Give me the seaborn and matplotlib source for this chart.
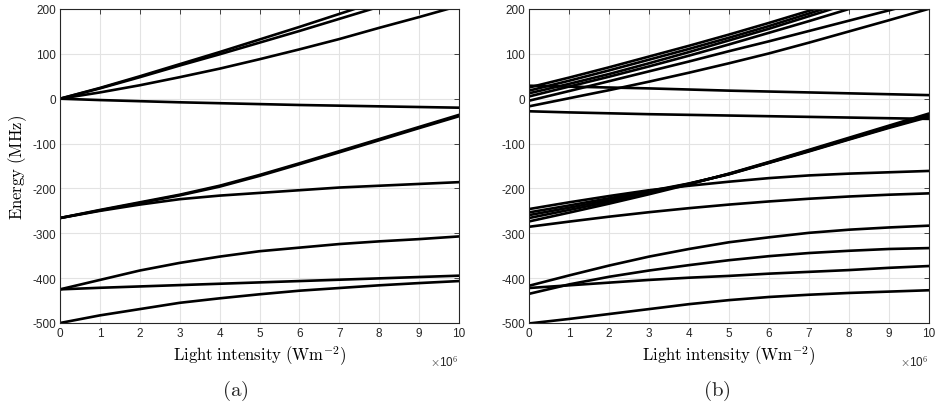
import numpy as np
import pandas as pd
import matplotlib
matplotlib.use("Agg")
import matplotlib.pyplot as plt
import seaborn as sns

# ---------------- data ----------------
# light intensity sample points (W m^-2)
intensity = [0, 1e6, 2e6, 3e6, 4e6, 5e6, 6e6, 7e6, 8e6, 9e6, 10e6]

# panel (a) energy levels (MHz)
a_curves = {
    "a1": [0, 24, 50, 77, 104, 132, 160, 189, 218, 247, 276],
    "a2": [0, 23, 48, 74, 99, 125, 151, 178, 205, 232, 259],
    "a3": [0, 14, 30, 48, 67, 88, 110, 133, 158, 182, 207],
    "a4": [0, -3, -5.5, -8, -10, -12, -14, -15.5, -17, -18.5, -20],
    "b1": [-266, -248, -231, -214, -194, -170, -144, -117, -90, -63, -36],
    "b1b": [-266, -249, -232.5, -215.5, -196, -172, -146, -119.5, -92.5, -65.5, -39],
    "b2": [-266, -250, -236, -224, -216, -210, -204, -198, -194, -190, -186],
    "c1": [-425, -404, -383, -366, -352, -340, -332, -324, -318, -313, -307],
    "c2": [-425, -421.5, -418.5, -415.5, -412.5, -409.5, -406.5, -403.5, -400.5, -397.5, -394.5],
    "c3": [-500, -483, -469, -455, -445, -436, -428, -422, -416, -411, -406.5],
}

# panel (b) energy levels (MHz)
b_curves = {
    "r1": [25, 47, 70, 94, 118, 143, 169, 196, 223, 250, 277],
    "r2": [18, 40, 63, 87, 111, 136, 162, 190, 218, 246, 274],
    "r3": [12, 33, 55, 79, 104, 130, 156, 184, 212, 240, 268],
    "r4": [5, 27, 49, 72, 96, 121, 147, 173, 200, 226, 252],
    "r5": [-4.5, 17, 39, 61, 83, 106, 128, 151, 174, 197, 220],
    "r6": [-17, 1, 19, 38, 58, 79, 101, 125, 150, 175, 200.5],
    "d1": [29, 27, 25, 23, 20.5, 18, 16, 14, 12, 10, 8],
    "d2": [-28, -30.5, -32.5, -34.5, -36, -37.5, -39, -40.5, -42, -43.5, -45],
    "m0": [-246, -231, -217, -204, -194, -185, -177, -171, -167, -164, -161],
    "m1": [-253.5, -238, -222, -206, -189, -168.5, -143, -117.5, -91, -65, -40.5],
    "m2": [-259.5, -243, -226, -208, -189.5, -168, -142.5, -116.5, -90, -63.5, -38],
    "m3": [-266, -248, -230, -210, -190, -167.5, -142, -115.5, -89, -62, -35.5],
    "m4": [-273.6, -254, -234, -213, -191, -167, -141, -114, -87, -60, -33],
    "m5": [-285.5, -274, -263, -253, -244, -236, -229, -223, -218, -214, -211],
    "l1": [-417, -394, -372, -352, -335, -320, -309, -299, -292, -287, -283],
    "l2": [-435, -414, -397, -383, -371, -360, -351, -344, -339, -335, -333],
    "l3": [-422, -416, -410, -404, -399, -395, -390, -386, -382, -377, -373],
    "l4": [-501, -491, -480, -469, -458, -449, -442, -437, -433, -430, -427],
}

y_ticks = [-500, -400, -300, -200, -100, 0, 100, 200]
x_ticks = [0, 1e6, 2e6, 3e6, 4e6, 5e6, 6e6, 7e6, 8e6, 9e6, 10e6]
x_tick_labels = ["0", "1", "2", "3", "4", "5", "6", "7", "8", "9", "10"]


def to_long(curves):
    rows = []
    for name, vals in curves.items():
        for x, e in zip(intensity, vals):
            rows.append({"I": x, "E": e, "curve": name})
    return pd.DataFrame(rows)


# ---------------- style ----------------
sns.set_theme(style="white")
plt.rcParams["font.family"] = ["Liberation Sans", "DejaVu Sans"]
plt.rcParams["mathtext.fontset"] = "cm"
plt.rcParams["axes.unicode_minus"] = False

W, H = 941, 406
fig = plt.figure(figsize=(W / 100, H / 100), dpi=100)

ax_a = fig.add_axes([60 / W, (H - 324) / H, 399 / W, 314 / H])
ax_b = fig.add_axes([529 / W, (H - 324) / H, 400 / W, 314 / H])

txt_col = "#262626"

for ax, curves in ((ax_a, a_curves), (ax_b, b_curves)):
    df = to_long(curves)
    sns.lineplot(data=df, x="I", y="E", units="curve", estimator=None,
                 color="black", lw=1.9, ax=ax, legend=False, sort=True)
    ax.set_xlim(0, 10e6)
    ax.set_ylim(-500, 200)
    ax.set_xticks(x_ticks)
    ax.set_xticklabels(x_tick_labels)
    ax.set_yticks(y_ticks)
    ax.set_yticklabels([str(v) for v in y_ticks])
    ax.grid(True, color="#e3e3e3", lw=0.8)
    ax.set_axisbelow(True)
    for s in ax.spines.values():
        s.set_visible(True)
        s.set_color(txt_col)
        s.set_linewidth(0.8)
    ax.tick_params(axis="both", which="major", direction="in", length=3.5,
                   width=0.6, color=txt_col, labelsize=8.5, labelcolor=txt_col,
                   top=True, right=True, pad=3)
    ax.set_xlabel(r"$\mathrm{Light\ intensity\ (Wm^{-2})}$", fontsize=12,
                  color="black", labelpad=3)
    ax.set_ylabel("")
    ax.text(1.0, -0.122, r"$\times$10$^{6}$", transform=ax.transAxes,
            ha="right", va="center", fontsize=8.5, color=txt_col)

ax_a.set_ylabel(r"$\mathrm{Energy\ (MHz)}$", fontsize=12, color="black",
                labelpad=2)

fig.text(235 / W, 1 - 391 / H, r"$\mathrm{(a)}$", fontsize=15,
         ha="center", va="center")
fig.text(717 / W, 1 - 391 / H, r"$\mathrm{(b)}$", fontsize=15,
         ha="center", va="center")

fig.savefig("out.png", dpi=100)
